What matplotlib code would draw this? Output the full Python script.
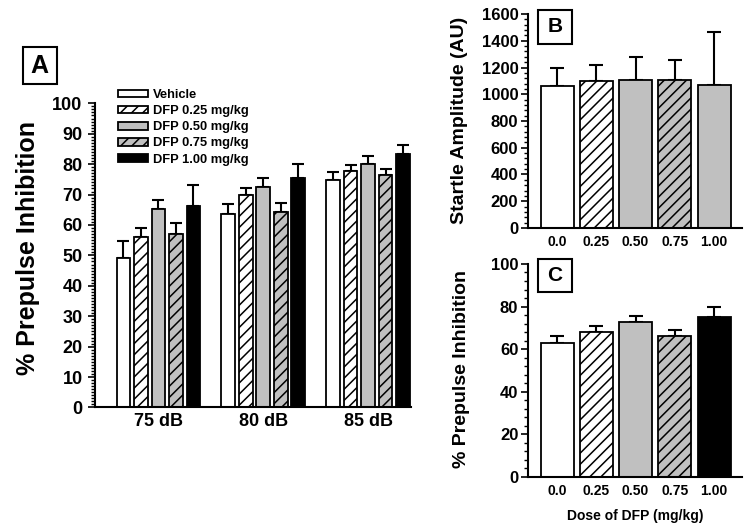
import matplotlib.pyplot as plt
import matplotlib.patches as mpatches
import numpy as np
from matplotlib.ticker import MultipleLocator

plt.rcParams["font.family"] = ["Liberation Sans", "DejaVu Sans"]
plt.rcParams["font.weight"] = "bold"
plt.rcParams["hatch.linewidth"] = 1.1

# Data ---------
groups = ["75 dB", "80 dB", "85 dB"]
treatments = ["Vehicle", "DFP 0.25 mg/kg", "DFP 0.50 mg/kg", "DFP 0.75 mg/kg", "DFP 1.00 mg/kg"]
ppi_mean = [
    [49.2, 63.6, 74.8],
    [55.9, 69.9, 77.6],
    [65.1, 72.4, 80.1],
    [57.0, 64.1, 76.5],
    [66.1, 75.4, 83.3],
]
ppi_err = [
    [5.5, 3.2, 2.6],
    [3.2, 2.1, 2.1],
    [3.2, 3.1, 2.7],
    [3.6, 3.1, 1.9],
    [7.1, 4.5, 3.0],
]

doses = ["0.0", "0.25", "0.50", "0.75", "1.00"]
startle_mean = [1060, 1100, 1110, 1105, 1070]
startle_err = [135, 120, 170, 150, 395]
ppi_avg_mean = [62.8, 68.2, 72.9, 66.0, 75.3]
ppi_avg_err = [3.3, 2.5, 2.7, 2.8, 4.7]

# bar styles (face, hatch)
styles_a = [("white", None), ("white", "///"), ("#c0c0c0", None), ("#c0c0c0", "///"), ("black", None)]
styles_b = [("white", None), ("white", "///"), ("#c0c0c0", None), ("#c0c0c0", "///"), ("#c0c0c0", None)]
styles_c = styles_a


def style_axis(ax):
    for s in ["top", "right"]:
        ax.spines[s].set_visible(False)
    for s in ["left", "bottom"]:
        ax.spines[s].set_linewidth(1.5)
    ax.tick_params(axis="x", length=0)
    ax.tick_params(axis="y", which="major", direction="out", length=5, width=1.2)
    ax.tick_params(axis="y", which="minor", direction="out", length=3, width=1.0)


fig = plt.figure(figsize=(7.5, 5.27), dpi=100)

# Panel A ---------
ax_a = fig.add_axes([0.1267, 0.2268, 0.4213, 0.5772])
x = np.arange(len(groups))
offset = 0.167
width = 0.132
handles = []
for i, name in enumerate(treatments):
    fc, hatch = styles_a[i]
    pos = x + (i - 2) * offset
    b = ax_a.bar(pos, ppi_mean[i], width, color=fc, edgecolor="black", hatch=hatch,
                 linewidth=1.3, label=name, zorder=2)
    ax_a.errorbar(pos, ppi_mean[i], yerr=[np.zeros(3), ppi_err[i]], fmt="none",
                  ecolor="black", elinewidth=1.5, capsize=4, capthick=1.5, zorder=1)
    handles.append(b)

ax_a.set_xlim(-0.605, 2.41)
ax_a.set_ylim(0, 100)
ax_a.set_xticks(x)
ax_a.set_xticklabels(groups, fontsize=13, fontweight="bold")
ax_a.yaxis.set_major_locator(MultipleLocator(10))
ax_a.yaxis.set_minor_locator(MultipleLocator(1))
style_axis(ax_a)
ax_a.tick_params(axis="x", pad=4)
ax_a.tick_params(axis="y", labelsize=13, pad=4)

ax_a.legend(handles=handles, loc="upper left", bbox_to_anchor=(118 / 750, 1 - 89 / 527),
            bbox_transform=fig.transFigure, frameon=False, borderpad=0, borderaxespad=0,
            prop={"size": 9.3, "weight": "bold"}, handlelength=2.3, handleheight=0.55,
            labelspacing=0.32, handletextpad=0.4)

fig.text(28 / 750, 1 - 248 / 527, "% Prepulse Inhibition", rotation=90, ha="center",
         va="center", fontsize=18, fontweight="bold")

# Panel B ---------
ax_b = fig.add_axes([0.704, 0.5674, 0.2853, 0.406])
xd = np.arange(len(doses))
for i in range(len(doses)):
    fc, hatch = styles_b[i]
    ax_b.bar(xd[i], startle_mean[i], 0.84, color=fc, edgecolor="black", hatch=hatch,
             linewidth=1.3, zorder=2)
ax_b.errorbar(xd, startle_mean, yerr=[np.zeros(5), startle_err], fmt="none",
              ecolor="black", elinewidth=1.5, capsize=5, capthick=1.5, zorder=1)
ax_b.set_xlim(-0.74, 4.71)
ax_b.set_ylim(0, 1600)
ax_b.set_xticks(xd)
ax_b.set_xticklabels(doses, fontsize=10, fontweight="bold")
ax_b.yaxis.set_major_locator(MultipleLocator(200))
ax_b.yaxis.set_minor_locator(MultipleLocator(40))
style_axis(ax_b)
ax_b.tick_params(axis="x", pad=5)
ax_b.tick_params(axis="y", labelsize=12, pad=2)
fig.text(459 / 750, 1 - 120 / 527, "Startle Amplitude (AU)", rotation=90, ha="center",
         va="center", fontsize=14, fontweight="bold")

# Panel C ---------
ax_c = fig.add_axes([0.704, 0.0949, 0.2853, 0.4042])
for i in range(len(doses)):
    fc, hatch = styles_c[i]
    ax_c.bar(xd[i], ppi_avg_mean[i], 0.84, color=fc, edgecolor="black", hatch=hatch,
             linewidth=1.3, zorder=2)
ax_c.errorbar(xd, ppi_avg_mean, yerr=[np.zeros(5), ppi_avg_err], fmt="none",
              ecolor="black", elinewidth=1.5, capsize=5, capthick=1.5, zorder=1)
ax_c.set_xlim(-0.74, 4.71)
ax_c.set_ylim(0, 100)
ax_c.set_xticks(xd)
ax_c.set_xticklabels(doses, fontsize=10, fontweight="bold")
ax_c.yaxis.set_major_locator(MultipleLocator(20))
ax_c.yaxis.set_minor_locator(MultipleLocator(4))
style_axis(ax_c)
ax_c.tick_params(axis="x", pad=5)
ax_c.tick_params(axis="y", labelsize=12, pad=2)
ax_c.set_xlabel("Dose of DFP (mg/kg)", fontsize=10, fontweight="bold", labelpad=8)
fig.text(461 / 750, 1 - 369 / 527, "% Prepulse Inhibition", rotation=90, ha="center",
         va="center", fontsize=14, fontweight="bold")

# Panel letters ---------
for letter, (x0, y0, w, h), fs in [("A", (22.7, 47.3, 34, 37), 18),
                                   ("B", (538, 10, 34, 33.5), 15),
                                   ("C", (538, 259, 34, 33), 15)]:
    rect = mpatches.Rectangle((x0 / 750, 1 - (y0 + h) / 527), w / 750, h / 527,
                              transform=fig.transFigure, fill=True, facecolor="white",
                              edgecolor="black", linewidth=1.5)
    fig.patches.append(rect)
    fig.text((x0 + w / 2) / 750, 1 - (y0 + h / 2) / 527, letter, ha="center", va="center",
             fontsize=fs, fontweight="bold")

fig.savefig("out.png", dpi=100)
